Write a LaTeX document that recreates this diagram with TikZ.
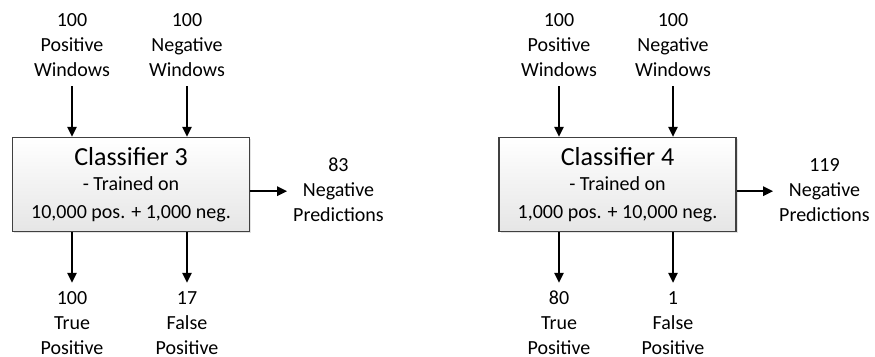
\documentclass[tikz,border=0pt]{standalone}
\usepackage{fontspec}
\setmainfont{Carlito}
\usetikzlibrary{arrows.meta,shadows}
% fixed-height line: 20pt above the baseline, 5pt below
\newcommand{\tstrut}{\rule[-5pt]{0pt}{25pt}}
\begin{document}
\begin{tikzpicture}[x=1pt,y=-1pt,
  lbl/.style={align=center, inner sep=0pt, anchor=north,
    font=\fontsize{20}{25}\selectfont},
  clsbox/.style={draw=black!75, line width=1.4pt, top color=white,
    bottom color=black!10, minimum width=237pt, minimum height=94pt,
    inner sep=0pt, align=center, font=\fontsize{20}{25}\selectfont,
    drop shadow={shadow xshift=1.6pt, shadow yshift=-1.6pt, fill=black!22}},
  flow/.style={line width=1.5pt, -{Triangle[length=10pt,width=9.5pt]}}
]
\path[use as bounding box] (0,0) rectangle (875,356);

% ---- left classifier ----
\node[clsbox] (c3) at (131,184.5)
  {{\fontsize{26}{30}\selectfont Classifier 3}\\ - Trained on\\[3.6pt] 10,000 pos. + 1,000 neg.};
\node[lbl] (p3) at (72,6.7) {\tstrut100\\\tstrut Positive\\\tstrut Windows};
\node[lbl] (n3) at (187,6.7) {\tstrut100\\\tstrut Negative\\\tstrut Windows};
\node[lbl] (tp3) at (72,283.8) {\tstrut100\\\tstrut True\\\tstrut Positive};
\node[lbl] (fp3) at (187,283.8) {\tstrut17\\\tstrut False\\\tstrut Positive};
\node[lbl, anchor=north west] (np3) at (293,151.7) {\tstrut83\\\tstrut Negative\\\tstrut Predictions};

\draw[flow, shorten <=4.3pt] (p3.south) -- (p3.south |- c3.north);
\draw[flow, shorten <=4.3pt] (n3.south) -- (n3.south |- c3.north);
\draw[flow, shorten >=1pt] (c3.south -| tp3.north) -- (tp3.north);
\draw[flow, shorten >=1pt] (c3.south -| fp3.north) -- (fp3.north);
\draw[flow, shorten >=6pt] ([yshift=-1.8pt]c3.east |- np3.west) -- ([yshift=-1.8pt]np3.west);

% ---- right classifier ----
\node[clsbox] (c4) at (617.5,184.5)
  {{\fontsize{26}{30}\selectfont Classifier 4}\\ - Trained on\\[3.6pt] 1,000 pos. + 10,000 neg.};
\node[lbl] (p4) at (559,6.7) {\tstrut100\\\tstrut Positive\\\tstrut Windows};
\node[lbl] (n4) at (673,6.7) {\tstrut100\\\tstrut Negative\\\tstrut Windows};
\node[lbl] (tp4) at (559,283.8) {\tstrut80\\\tstrut True\\\tstrut Positive};
\node[lbl] (fp4) at (673,283.8) {\tstrut1\\\tstrut False\\\tstrut Positive};
\node[lbl, anchor=north west] (np4) at (779,151.7) {\tstrut119\\\tstrut Negative\\\tstrut Predictions};

\draw[flow, shorten <=4.3pt] (p4.south) -- (p4.south |- c4.north);
\draw[flow, shorten <=4.3pt] (n4.south) -- (n4.south |- c4.north);
\draw[flow, shorten >=1pt] (c4.south -| tp4.north) -- (tp4.north);
\draw[flow, shorten >=1pt] (c4.south -| fp4.north) -- (fp4.north);
\draw[flow, shorten >=6pt] ([yshift=-1.8pt]c4.east |- np4.west) -- ([yshift=-1.8pt]np4.west);
\end{tikzpicture}
\end{document}
